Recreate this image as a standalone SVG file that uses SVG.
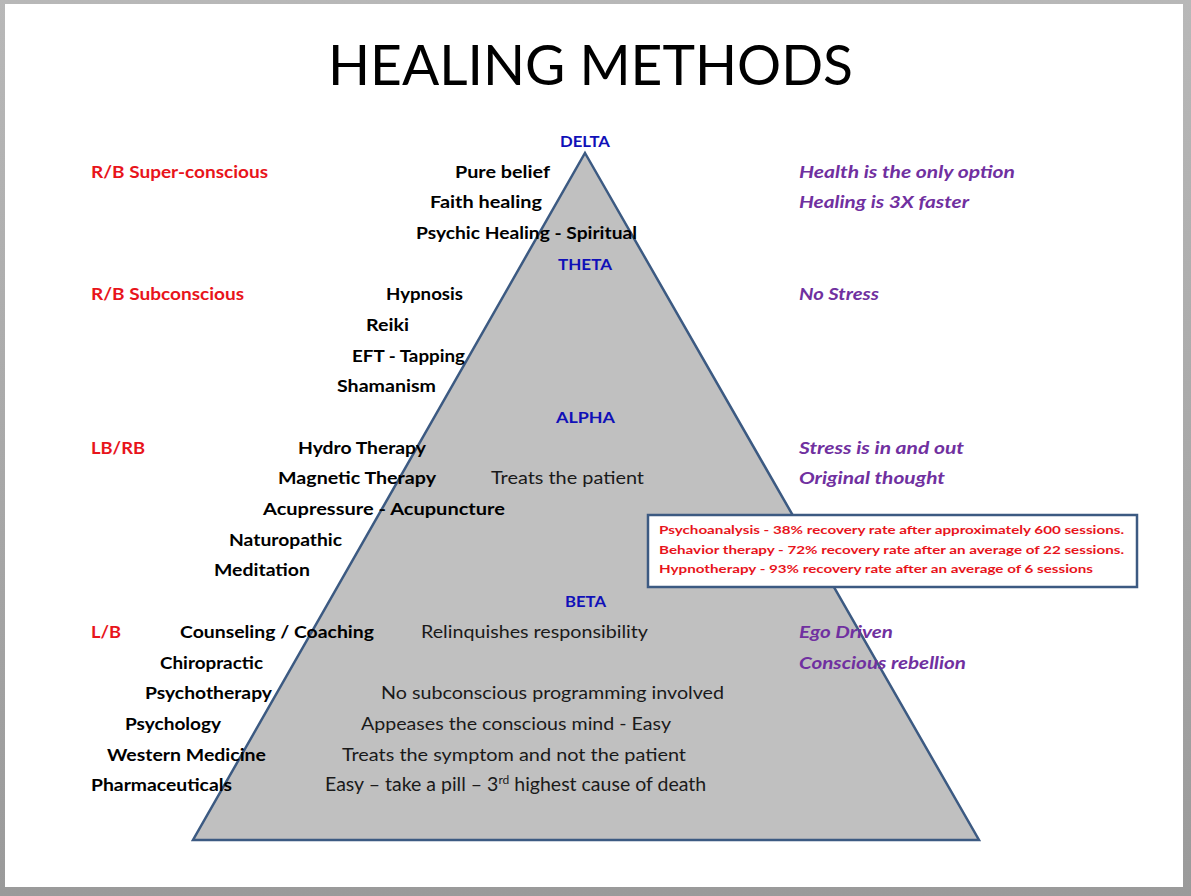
<svg xmlns="http://www.w3.org/2000/svg" width="1191" height="896" viewBox="0 0 1191 896">
<style>
text{font-family:Lato,"Open Sans","Liberation Sans",sans-serif;font-size:17.5px}
.b{font-weight:bold;fill:#000}
.r{font-weight:normal;fill:#1a1a1a;font-size:18px}
.red{font-weight:bold;fill:#e8141b}
.pur{font-weight:bold;font-style:italic;fill:#7030a0}
.blu{font-weight:bold;fill:#1010b8;font-size:16px}
.box{font-weight:bold;fill:#e8141b;font-size:12px}
</style>
<defs>
<linearGradient id="sh" x1="0" y1="0" x2="0" y2="1"><stop offset="0" stop-color="#b8b8b8"/><stop offset="1" stop-color="#9a9a9a"/></linearGradient>
</defs>
<rect x="0" y="0" width="1191" height="896" fill="url(#sh)"/>
<rect x="5" y="4" width="1178" height="883" fill="#ffffff"/>
<text x="328" y="85" style="font-size:56px" fill="#000" textLength="525" lengthAdjust="spacingAndGlyphs">HEALING METHODS</text>
<g id="pyramid">
<polygon points="585,153 979,840 193,840" fill="#c0c0c0" stroke="#3c5a82" stroke-width="2.5" stroke-linejoin="miter"/>
</g>
<g id="levels">
<text class="blu" x="560" y="147" textLength="50" lengthAdjust="spacingAndGlyphs">DELTA</text>
<text class="blu" x="558" y="270" textLength="54" lengthAdjust="spacingAndGlyphs">THETA</text>
<text class="blu" x="556" y="423" textLength="59" lengthAdjust="spacingAndGlyphs">ALPHA</text>
<text class="blu" x="565" y="607" textLength="41" lengthAdjust="spacingAndGlyphs">BETA</text>
</g>
<g id="brain">
<text class="red" x="91" y="178" textLength="177" lengthAdjust="spacingAndGlyphs">R/B Super-conscious</text>
<text class="red" x="91" y="300" textLength="153" lengthAdjust="spacingAndGlyphs">R/B Subconscious</text>
<text class="red" x="91" y="454" textLength="54" lengthAdjust="spacingAndGlyphs">LB/RB</text>
<text class="red" x="91" y="638" textLength="30" lengthAdjust="spacingAndGlyphs">L/B</text>
</g>
<g id="methods">
<text class="b" x="455" y="178" textLength="95" lengthAdjust="spacingAndGlyphs">Pure belief</text>
<text class="b" x="430" y="208" textLength="112" lengthAdjust="spacingAndGlyphs">Faith healing</text>
<text class="b" x="416" y="239" textLength="221" lengthAdjust="spacingAndGlyphs">Psychic Healing - Spiritual</text>
<text class="b" x="386" y="300" textLength="77" lengthAdjust="spacingAndGlyphs">Hypnosis</text>
<text class="b" x="366" y="331" textLength="43" lengthAdjust="spacingAndGlyphs">Reiki</text>
<text class="b" x="352" y="362" textLength="113" lengthAdjust="spacingAndGlyphs">EFT - Tapping</text>
<text class="b" x="337" y="392" textLength="99" lengthAdjust="spacingAndGlyphs">Shamanism</text>
<text class="b" x="298" y="454" textLength="128" lengthAdjust="spacingAndGlyphs">Hydro Therapy</text>
<text class="b" x="278" y="484" textLength="158" lengthAdjust="spacingAndGlyphs">Magnetic Therapy</text>
<text class="b" x="263" y="515" textLength="242" lengthAdjust="spacingAndGlyphs">Acupressure  - Acupuncture</text>
<text class="b" x="229" y="546" textLength="113" lengthAdjust="spacingAndGlyphs">Naturopathic</text>
<text class="b" x="214" y="576" textLength="96" lengthAdjust="spacingAndGlyphs">Meditation</text>
<text class="b" x="180" y="638" textLength="194" lengthAdjust="spacingAndGlyphs">Counseling  / Coaching</text>
<text class="b" x="160" y="669" textLength="103" lengthAdjust="spacingAndGlyphs">Chiropractic</text>
<text class="b" x="145" y="699" textLength="127" lengthAdjust="spacingAndGlyphs">Psychotherapy</text>
<text class="b" x="125" y="730" textLength="96" lengthAdjust="spacingAndGlyphs">Psychology</text>
<text class="b" x="107" y="761" textLength="159" lengthAdjust="spacingAndGlyphs">Western Medicine</text>
<text class="b" x="91" y="791" textLength="141" lengthAdjust="spacingAndGlyphs">Pharmaceuticals</text>
</g>
<g id="notes">
<text class="r" x="491" y="484" textLength="153" lengthAdjust="spacingAndGlyphs">Treats the patient</text>
<text class="r" x="421" y="638" textLength="227" lengthAdjust="spacingAndGlyphs">Relinquishes  responsibility</text>
<text class="r" x="381" y="699" textLength="343" lengthAdjust="spacingAndGlyphs">No subconscious  programming involved</text>
<text class="r" x="361" y="730" textLength="310" lengthAdjust="spacingAndGlyphs">Appeases  the conscious mind - Easy</text>
<text class="r" x="342" y="761" textLength="344" lengthAdjust="spacingAndGlyphs">Treats the symptom and not the patient</text>
<text class="r" x="325" y="791" style="font-size:19.5px">Easy – take a pill – 3<tspan font-size="12" dy="-7">rd</tspan><tspan dy="7"> highest cause of death</tspan></text>
</g>
<g id="states">
<text class="pur" x="799" y="178" textLength="216" lengthAdjust="spacingAndGlyphs">Health  is the only option</text>
<text class="pur" x="799" y="208" textLength="170" lengthAdjust="spacingAndGlyphs">Healing  is 3X faster</text>
<text class="pur" x="799" y="300" textLength="80" lengthAdjust="spacingAndGlyphs">No Stress</text>
<text class="pur" x="799" y="454" textLength="165" lengthAdjust="spacingAndGlyphs">Stress is in and out</text>
<text class="pur" x="799" y="484" textLength="146" lengthAdjust="spacingAndGlyphs">Original  thought</text>
<text class="pur" x="799" y="638" textLength="94" lengthAdjust="spacingAndGlyphs">Ego Driven</text>
<text class="pur" x="799" y="669" textLength="167" lengthAdjust="spacingAndGlyphs">Conscious rebellion</text>
</g>
<g id="stats">
<rect x="648" y="515" width="489" height="72" fill="#ffffff" stroke="#3c5a82" stroke-width="2.5"/>
<text class="box" x="659" y="534" textLength="465" lengthAdjust="spacingAndGlyphs">Psychoanalysis - 38% recovery rate after approximately 600 sessions.</text>
<text class="box" x="659" y="554" textLength="465" lengthAdjust="spacingAndGlyphs">Behavior therapy - 72% recovery rate after an average of 22 sessions.</text>
<text class="box" x="659" y="573" textLength="434" lengthAdjust="spacingAndGlyphs">Hypnotherapy - 93% recovery rate after an average of 6 sessions</text>
</g>
</svg>
